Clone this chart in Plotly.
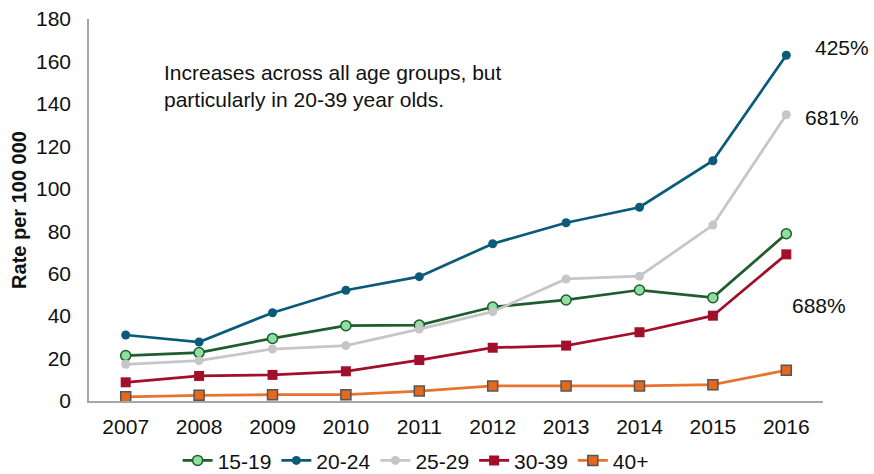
import plotly.graph_objects as go

years = ["2007", "2008", "2009", "2010", "2011", "2012", "2013", "2014", "2015", "2016"]

age_15_19 = [21.4, 22.8, 29.5, 35.5, 35.8, 44.3, 47.6, 52.3, 48.7, 78.8]
age_20_24 = [31.1, 27.8, 41.6, 52.2, 58.6, 74.1, 84.0, 91.3, 113.2, 162.9]
age_25_29 = [17.3, 19.0, 24.5, 26.1, 33.9, 42.1, 57.5, 58.8, 82.9, 134.9]
age_30_39 = [8.8, 11.8, 12.3, 14.0, 19.3, 25.1, 26.1, 32.4, 40.2, 69.1]
age_40_plus = [2.0, 2.7, 3.0, 3.0, 4.7, 7.1, 7.1, 7.1, 7.7, 14.5]

y_ticks = [0, 20, 40, 60, 80, 100, 120, 140, 160, 180]

FONT = "Liberation Sans, Arial, sans-serif"
FS = 21

series = [
    ("15-19", age_15_19, "#1f5c2e", dict(symbol="circle", size=10, color="#8ee0a0",
                                          line=dict(color="#1f5c2e", width=1.5))),
    ("20-24", age_20_24, "#0b5b78", dict(symbol="circle", size=9, color="#0b5b78",
                                          line=dict(width=0))),
    ("25-29", age_25_29, "#c6c6c6", dict(symbol="circle", size=9, color="#c6c6c6",
                                          line=dict(width=0))),
    ("30-39", age_30_39, "#a10f2b", dict(symbol="square", size=10, color="#a10f2b",
                                          line=dict(width=0))),
    ("40+", age_40_plus, "#e8732c", dict(symbol="square", size=10, color="#e2691f",
                                        line=dict(color="#555555", width=1.5))),
]

fig = go.Figure()
for name, vals, color, marker in series:
    fig.add_trace(go.Scatter(
        x=years, y=vals, name=name, mode="lines+markers",
        line=dict(color=color, width=2.75), marker=marker,
    ))

annotations = [
    dict(text="Increases across all age groups, but<br>particularly in 20-39 year olds.",
         xref="paper", yref="paper", x=0.1, y=0.895, xanchor="left", yanchor="top",
         align="left", showarrow=False, font=dict(size=FS, color="#111111")),
    dict(text="425%", xref="paper", yref="paper", x=1.026, y=0.926,
         xanchor="center", yanchor="middle", showarrow=False,
         font=dict(size=FS, color="#111111")),
    dict(text="681%", xref="paper", yref="paper", x=1.012, y=0.741,
         xanchor="center", yanchor="middle", showarrow=False,
         font=dict(size=FS, color="#111111")),
    dict(text="688%", xref="paper", yref="paper", x=0.995, y=0.251,
         xanchor="center", yanchor="middle", showarrow=False,
         font=dict(size=FS, color="#111111")),
]

fig.update_layout(
    width=874, height=474,
    margin=dict(l=89, r=51, t=19, b=73, autoexpand=False),
    paper_bgcolor="white", plot_bgcolor="white",
    font=dict(family=FONT, size=FS, color="#111111"),
    showlegend=True,
    legend=dict(orientation="h", x=0.445, xanchor="center",
                yref="container", y=0.028, yanchor="middle",
                font=dict(size=FS), tracegroupgap=0),
    annotations=annotations,
)

fig.update_xaxes(
    type="category", range=[-0.5, 9.5], showgrid=False, zeroline=False,
    showline=True, linecolor="#a6a6a6", linewidth=1.5,
    ticks="outside", ticklen=6, tickcolor="rgba(0,0,0,0)",
    tickfont=dict(size=FS),
)
fig.update_yaxes(
    range=[0, 180], tickvals=y_ticks, showgrid=False, zeroline=False,
    showline=True, linecolor="#a6a6a6", linewidth=1.5,
    ticks="outside", ticklen=12, tickcolor="rgba(0,0,0,0)",
    tickfont=dict(size=FS),
    title=dict(text="<b>Rate per 100 000</b>", font=dict(size=20), standoff=4),
)

fig.write_html("out.html")
